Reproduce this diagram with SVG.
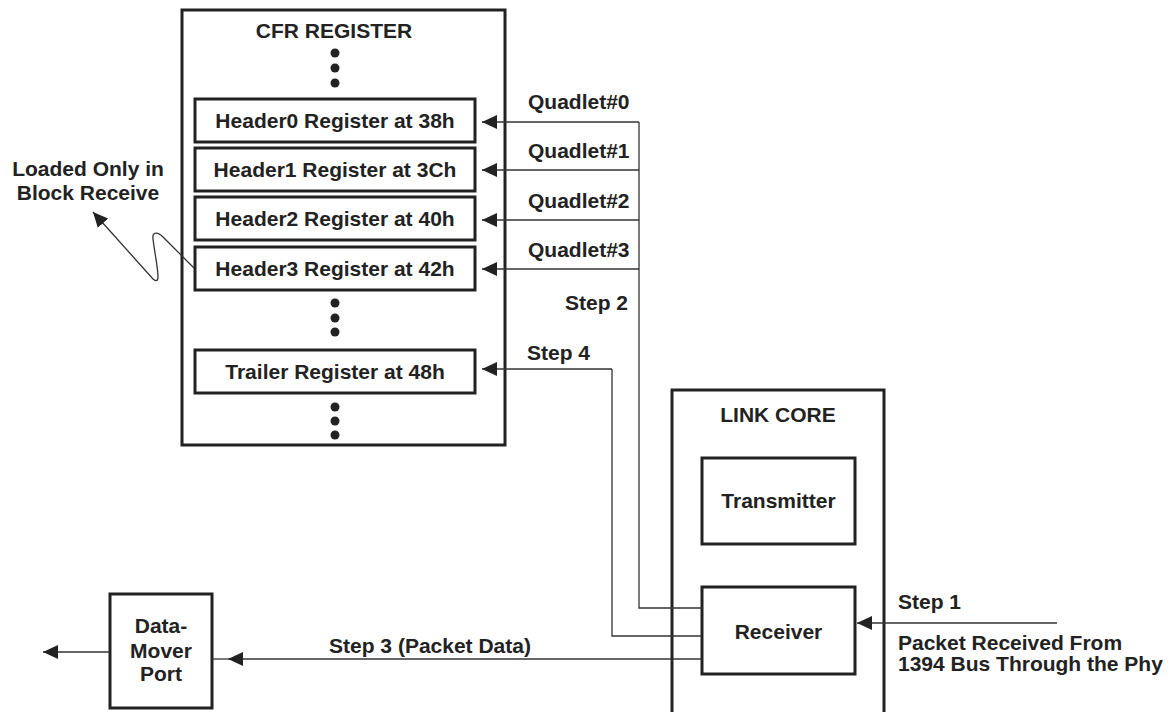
<svg xmlns="http://www.w3.org/2000/svg" width="1173" height="712" viewBox="0 0 1173 712">
<style>
text{font-family:"Liberation Sans",Arial,sans-serif;font-weight:bold;font-size:21px;fill:#222}
.c{text-anchor:middle}
.box{fill:#fff;stroke:#222;stroke-width:3}
.frame{fill:none;stroke:#222;stroke-width:3}
.ln{fill:none;stroke:#333;stroke-width:1.3}
.arr{fill:none;stroke:#333;stroke-width:1.3;marker-end:url(#ah)}
</style>
<defs>
<marker id="ah" markerUnits="userSpaceOnUse" markerWidth="16" markerHeight="14" refX="15" refY="7" orient="auto">
<path d="M0,0 L15,7 L0,14 z" fill="#222"/>
</marker>
</defs>
<rect width="1173" height="712" fill="#fff"/>
<g id="cfr">
<rect class="frame" x="182" y="10" width="323" height="435"/>
<text class="c" x="334" y="38">CFR REGISTER</text>
<circle cx="335" cy="53" r="4.5" fill="#222"/><circle cx="335" cy="68" r="4.5" fill="#222"/><circle cx="335" cy="83" r="4.5" fill="#222"/>
<circle cx="335" cy="303" r="4.5" fill="#222"/><circle cx="335" cy="318" r="4.5" fill="#222"/><circle cx="335" cy="332" r="4.5" fill="#222"/>
<circle cx="335" cy="407" r="4.5" fill="#222"/><circle cx="335" cy="421" r="4.5" fill="#222"/><circle cx="335" cy="435" r="4.5" fill="#222"/>
</g>
<g id="header0"><rect class="box" x="195" y="99" width="280" height="43"/><text class="c" x="335" y="128">Header0 Register at 38h</text></g>
<g id="header1"><rect class="box" x="195" y="148" width="280" height="43"/><text class="c" x="335" y="177">Header1 Register at 3Ch</text></g>
<g id="header2"><rect class="box" x="195" y="197" width="280" height="43"/><text class="c" x="335" y="226">Header2 Register at 40h</text></g>
<g id="header3"><rect class="box" x="195" y="247" width="280" height="43"/><text class="c" x="335" y="276">Header3 Register at 42h</text></g>
<g id="trailer"><rect class="box" x="195" y="350" width="280" height="43"/><text class="c" x="335" y="379">Trailer Register at 48h</text></g>
<g id="linkcore">
<path class="frame" d="M672,716 V390 H884 V716"/>
<text class="c" x="778" y="422">LINK CORE</text>
</g>
<g id="transmitter"><rect class="box" x="702" y="458" width="153" height="86"/><text class="c" x="778.5" y="508">Transmitter</text></g>
<g id="receiver"><rect class="box" x="702" y="587" width="153" height="87"/><text class="c" x="778.5" y="639">Receiver</text></g>
<g id="datamover"><rect class="box" x="110" y="594" width="102" height="114"/>
<text class="c" x="161" y="633">Data-</text><text class="c" x="161" y="658">Mover</text><text class="c" x="161" y="681">Port</text></g>
<g id="connectors">
<path class="ln" d="M639,122 V608 H702"/>
<path class="arr" d="M639,122 H482"/>
<path class="arr" d="M639,170 H482"/>
<path class="arr" d="M639,220 H482"/>
<path class="arr" d="M639,269 H482"/>
<path class="ln" d="M612,369 V636 H702"/>
<path class="arr" d="M612,369 H482"/>
<path class="ln" d="M228,659 H212"/>
<path class="arr" d="M702,659 H228"/>
<path class="arr" d="M110,652 H43"/>
<path class="arr" d="M1057,623 H857"/>
<path class="arr" d="M194,268 L163,237 C158,232 152,231 153,239 C155,255 158,268 158,277 C158,282 155,281 153,279 L93,212"/>
</g>
<g id="labels">
<text x="528" y="109">Quadlet#0</text>
<text x="528" y="158">Quadlet#1</text>
<text x="528" y="208">Quadlet#2</text>
<text x="528" y="257">Quadlet#3</text>
<text x="628" y="310" text-anchor="end">Step 2</text>
<text x="527" y="360">Step 4</text>
<text class="c" x="430" y="653">Step 3 (Packet Data)</text>
<text x="898" y="609">Step 1</text>
<text x="898" y="650">Packet Received From</text>
<text x="898" y="671">1394 Bus Through the Phy</text>
<text class="c" x="88" y="176">Loaded Only in</text>
<text class="c" x="88" y="200">Block Receive</text>
</g>
</svg>
